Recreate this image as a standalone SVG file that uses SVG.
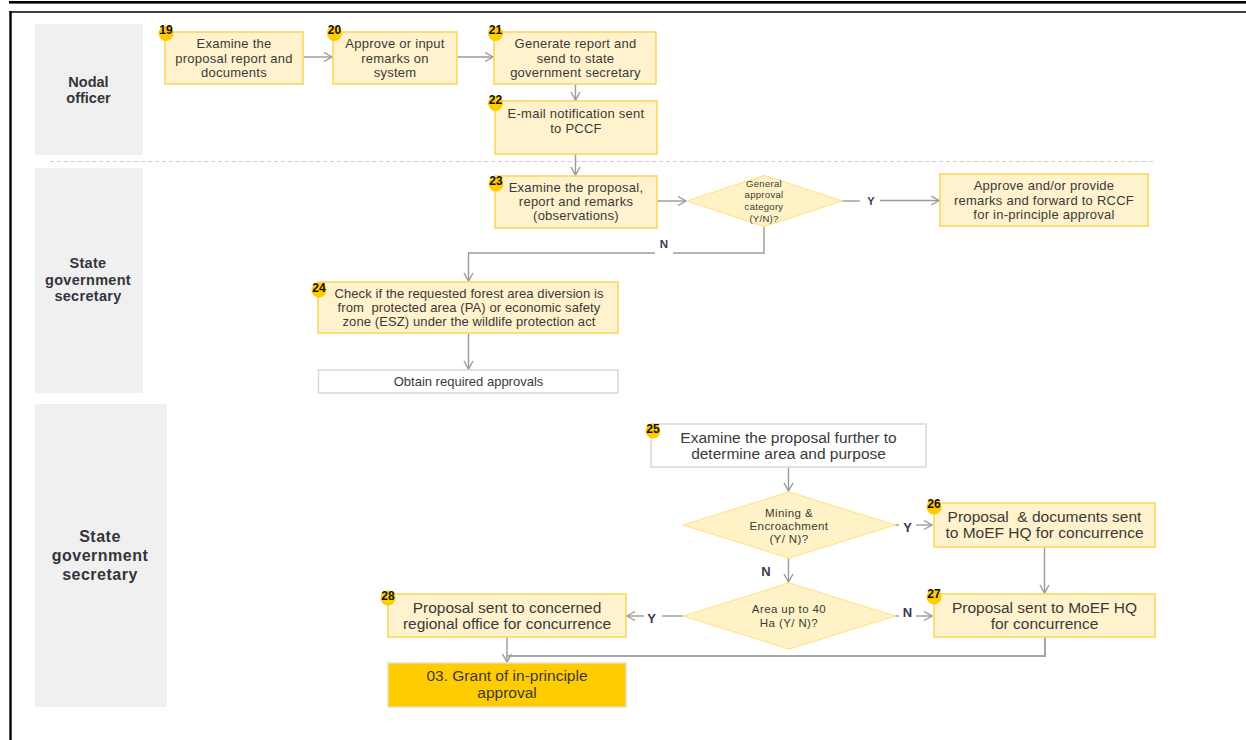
<svg xmlns="http://www.w3.org/2000/svg" width="1246" height="740" viewBox="0 0 1246 740">
<defs>
<marker id="ah" markerUnits="userSpaceOnUse" markerWidth="12" markerHeight="12" refX="9" refY="5" orient="auto">
<path d="M1,0.5 L9,5 L1,9.5" fill="none" stroke="#9a9a9a" stroke-width="1.4"/>
</marker>
</defs>
<style>
text{font-family:"Liberation Sans",Arial,sans-serif;fill:#3a3a3a;text-anchor:middle}
.lane{fill:#f0f0f0}
.ll{font-weight:bold;fill:#34343c}
.box{fill:#fff2cc;stroke:#fbd75f;stroke-width:1.6}
.wbox{fill:#ffffff;stroke:#d9d9d9;stroke-width:1.5}
.dia{fill:#fff2c6;stroke:#ffe390;stroke-width:1.2}
.gold{fill:#ffcc00;stroke:#e9dfb8;stroke-width:1.5}
.t13{font-size:13px;letter-spacing:0.25px}
.t15{font-size:15.5px}
.d9{font-size:9.5px;letter-spacing:0.3px}
.d11{font-size:11.5px;letter-spacing:0.4px}
.badge circle{fill:#ffcc00}
.badge text{font-size:12px;font-weight:bold;fill:#111}
.yn{font-weight:bold;fill:#3a3a50}
.c{fill:none;stroke:#9a9a9a;stroke-width:1.4}
</style>
<rect x="9" y="1" width="1237" height="2.6" fill="#000"/>
<line x1="10.5" y1="11" x2="10.5" y2="740" stroke="#000" stroke-width="2.4"/>
<line x1="9.5" y1="12" x2="1246" y2="12" stroke="#000" stroke-width="1.5"/>

<g id="lanes">
<rect class="lane" x="35" y="24" width="108" height="131"/>
<text class="ll" x="88.5" y="87" font-size="14.5">Nodal</text>
<text class="ll" x="88.5" y="103" font-size="14.5">officer</text>
<line x1="50" y1="161.5" x2="1156" y2="161.5" stroke="#d0d0d0" stroke-width="1" stroke-dasharray="4,3"/>
<rect class="lane" x="35" y="168" width="108" height="225"/>
<text class="ll" x="88" y="268" font-size="14.5" letter-spacing="0.3">State</text>
<text class="ll" x="88" y="284.5" font-size="14.5" letter-spacing="0.3">government</text>
<text class="ll" x="88" y="301" font-size="14.5" letter-spacing="0.3">secretary</text>
<rect class="lane" x="35" y="404" width="132" height="303"/>
<text class="ll" x="100" y="541.5" font-size="16" letter-spacing="0.5">State</text>
<text class="ll" x="100" y="561" font-size="16" letter-spacing="0.5">government</text>
<text class="ll" x="100" y="580" font-size="16" letter-spacing="0.5">secretary</text>
</g>

<g id="connectors">
<path class="c" d="M303,57 H332" marker-end="url(#ah)"/>
<path class="c" d="M457,57 H493" marker-end="url(#ah)"/>
<path class="c" d="M575.5,84 V100" marker-end="url(#ah)"/>
<path class="c" d="M575.5,154 V175" marker-end="url(#ah)"/>
<path class="c" d="M657,201 H686" marker-end="url(#ah)"/>
<path class="c" d="M842,201 H860"/>
<path class="c" d="M880,200.5 H939" marker-end="url(#ah)"/>
<text class="yn" x="871" y="205" font-size="11">Y</text>
<path class="c" d="M764,226 V253 H673"/>
<path class="c" d="M655,253 H468.5 V281" marker-end="url(#ah)"/>
<text class="yn" x="664" y="248" font-size="11.5">N</text>
<path class="c" d="M468.5,333 V369" marker-end="url(#ah)"/>
<path class="c" d="M788.5,467 V491" marker-end="url(#ah)"/>
<path class="c" d="M895,525 H899"/>
<path class="c" d="M916,525 H932" marker-end="url(#ah)"/>
<text class="yn" x="907.5" y="532" font-size="13">Y</text>
<path class="c" d="M788.5,558 V582" marker-end="url(#ah)"/>
<text class="yn" x="766" y="576" font-size="13">N</text>
<path class="c" d="M895,616 H899"/>
<path class="c" d="M916,616 H932" marker-end="url(#ah)"/>
<text class="yn" x="907.5" y="617" font-size="13">N</text>
<path class="c" d="M683,616 H662"/>
<path class="c" d="M644,616 H627" marker-end="url(#ah)"/>
<text class="yn" x="651.5" y="623" font-size="13">Y</text>
<path class="c" d="M1044.5,547 V593" marker-end="url(#ah)"/>
<path class="c" d="M507,637 V662" marker-end="url(#ah)"/>
<path d="M1045,637 V656 H507" fill="none" stroke="#a6a6a6" stroke-width="2"/>
</g>

<g id="n19">
<rect class="box" x="165" y="32" width="138" height="52"/>
<text class="t13" x="234" y="48">Examine the</text>
<text class="t13" x="234" y="62.5">proposal report and</text>
<text class="t13" x="234" y="77">documents</text>
<g class="badge"><circle cx="166" cy="33.5" r="7.5"/><text x="166" y="33.5">19</text></g>
</g>
<g id="n20">
<rect class="box" x="333" y="32" width="124" height="52"/>
<text class="t13" x="395" y="48">Approve or input</text>
<text class="t13" x="395" y="62.5">remarks on</text>
<text class="t13" x="395" y="77">system</text>
<g class="badge"><circle cx="334.5" cy="33.5" r="7.5"/><text x="334.5" y="33.5">20</text></g>
</g>
<g id="n21">
<rect class="box" x="494" y="32" width="162" height="52"/>
<text class="t13" x="575.5" y="48">Generate report and</text>
<text class="t13" x="575.5" y="62.5">send to state</text>
<text class="t13" x="575.5" y="77">government secretary</text>
<g class="badge"><circle cx="495.5" cy="33.5" r="7.5"/><text x="495.5" y="33.5">21</text></g>
</g>
<g id="n22">
<rect class="box" x="495" y="101" width="162" height="53"/>
<text class="t13" x="576" y="118">E-mail notification sent</text>
<text class="t13" x="576" y="133">to PCCF</text>
<g class="badge"><circle cx="495.5" cy="103.5" r="7.5"/><text x="495.5" y="104">22</text></g>
</g>
<g id="n23">
<rect class="box" x="495" y="176" width="162" height="52"/>
<text class="t13" x="576" y="192">Examine the proposal,</text>
<text class="t13" x="576" y="206">report and remarks</text>
<text class="t13" x="576" y="220">(observations)</text>
<g class="badge"><circle cx="496" cy="184" r="7.5"/><text x="496" y="185">23</text></g>
</g>
<g id="d1">
<polygon class="dia" points="687,201 764,175.5 842,201 764,226.5"/>
<text class="d9" x="764" y="187">General</text>
<text class="d9" x="764" y="198">approval</text>
<text class="d9" x="764" y="209.5">category</text>
<text class="d9" x="764" y="221.5">(Y/N)?</text>
</g>
<g id="n-approve">
<rect class="box" x="940" y="174" width="208" height="52"/>
<text class="t13" x="1044" y="189.5">Approve and/or provide</text>
<text class="t13" x="1044" y="204.5">remarks and forward to RCCF</text>
<text class="t13" x="1044" y="219">for in-principle approval</text>
</g>
<g id="n24">
<rect class="box" x="318" y="282" width="300" height="51"/>
<text class="t13" x="469" y="298" style="letter-spacing:0.1px">Check if the requested forest area diversion is</text>
<text class="t13" x="469" y="312" style="letter-spacing:0.1px" xml:space="preserve">from  protected area (PA) or economic safety</text>
<text class="t13" x="469" y="326" style="letter-spacing:0.1px">zone (ESZ) under the wildlife protection act</text>
<g class="badge"><circle cx="319" cy="290" r="7.5"/><text x="319" y="292">24</text></g>
</g>
<g id="n-obtain">
<rect class="wbox" x="318.5" y="370" width="299.5" height="23"/>
<text class="t13" x="468.5" y="386" style="letter-spacing:0">Obtain required approvals</text>
</g>
<g id="n25">
<rect class="wbox" x="651" y="424" width="275" height="43"/>
<text class="t15" x="788.5" y="443">Examine the proposal further to</text>
<text class="t15" x="788.5" y="459">determine area and purpose</text>
<g class="badge"><circle cx="653" cy="431" r="7.5"/><text x="653" y="433">25</text></g>
</g>
<g id="d2">
<polygon class="dia" points="683,525 789,492 895,525 789,558"/>
<text class="d11" x="789" y="517">Mining &amp;</text>
<text class="d11" x="789" y="530">Encroachment</text>
<text class="d11" x="789" y="543">(Y/ N)?</text>
</g>
<g id="n26">
<rect class="box" x="934" y="503" width="221" height="44"/>
<text class="t15" x="1044.5" y="522" xml:space="preserve">Proposal  &amp; documents sent</text>
<text class="t15" x="1044.5" y="538">to MoEF HQ for concurrence</text>
<g class="badge"><circle cx="934" cy="507" r="7.5"/><text x="934" y="508">26</text></g>
</g>
<g id="d3">
<polygon class="dia" points="683,616 789,583 895,616 789,649"/>
<text class="d11" x="789" y="613">Area up to 40</text>
<text class="d11" x="789" y="627">Ha (Y/ N)?</text>
</g>
<g id="n27">
<rect class="box" x="934" y="594" width="221" height="43"/>
<text class="t15" x="1044.5" y="613">Proposal sent to MoEF HQ</text>
<text class="t15" x="1044.5" y="629">for concurrence</text>
<g class="badge"><circle cx="934" cy="597" r="7.5"/><text x="934" y="598">27</text></g>
</g>
<g id="n28">
<rect class="box" x="388" y="594" width="238" height="43"/>
<text class="t15" x="507" y="612.5">Proposal sent to concerned</text>
<text class="t15" x="507" y="628.5">regional office for concurrence</text>
<g class="badge"><circle cx="388" cy="598" r="7.5"/><text x="388" y="600">28</text></g>
</g>
<g id="n03">
<rect class="gold" x="388" y="663" width="238" height="44"/>
<text class="t15" x="507" y="681">03. Grant of in-principle</text>
<text class="t15" x="507" y="698">approval</text>
</g>
</svg>
